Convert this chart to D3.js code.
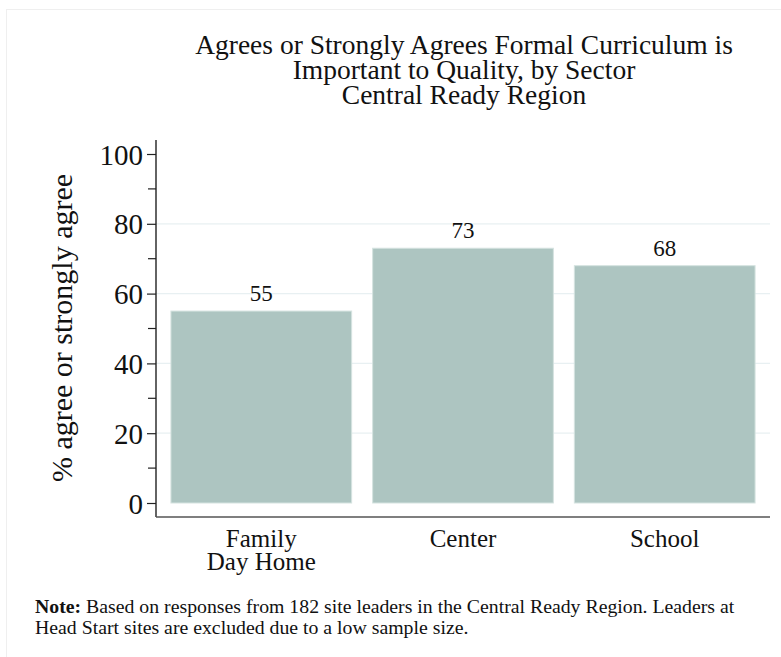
<!DOCTYPE html>
<html>
<head>
<meta charset="utf-8">
<script src="https://cdn.jsdelivr.net/npm/d3@7"></script>
<style>
  body { margin: 0; background: #fff; }
  svg text { font-family: "Liberation Serif", "Times New Roman", serif; fill: #111; }
</style>
</head>
<body>
<div id="chart"></div>
<script>
// data
var sectors = ["Family\nDay Home", "Center", "School"];
var pctAgree = [55, 73, 68];
var majorTicks = [0, 20, 40, 60, 80, 100];
var minorTicks = [10, 30, 50, 70, 90];
var titleLines = ["Agrees or Strongly Agrees Formal Curriculum is",
                  "Important to Quality, by Sector",
                  "Central Ready Region"];

var width = 781,
    height = 657;

var svg = d3.select("#chart")
  .append("svg")
    .attr("width", width)
    .attr("height", height);

// faint outer frame
svg.append("rect")
  .attr("x", 6.5).attr("y", 9.5)
  .attr("width", 800).attr("height", 700)
  .attr("fill", "none")
  .attr("stroke", "#efefef");

// plot area edges
var plotLeft = 156, plotRight = 770, plotTop = 140, plotBottom = 517;

var y = d3.scaleLinear()
  .domain([0, 100])
  .range([503, 154]);

var x = d3.scaleBand()
  .domain(sectors)
  .range([plotLeft, plotRight])
  .paddingInner(0.104)
  .paddingOuter(0.074);

// gridlines
svg.selectAll(".grid")
  .data(majorTicks.filter(function(d) { return d > 0 && d < 100; }))
  .enter()
  .append("line")
    .attr("x1", plotLeft).attr("x2", plotRight)
    .attr("y1", function(d) { return y(d); })
    .attr("y2", function(d) { return y(d); })
    .attr("stroke", "#e8f0f2")
    .attr("stroke-width", 1.3);

// bars
svg.selectAll(".bar")
  .data(pctAgree)
  .enter()
  .append("rect")
    .attr("x", function(d, i) { return x(sectors[i]); })
    .attr("y", function(d) { return y(d); })
    .attr("width", x.bandwidth())
    .attr("height", function(d) { return y(0) - y(d); })
    .attr("fill", "#adc5c1")
    .attr("stroke", "#d5e3e0")
    .attr("stroke-width", 1);

// value labels
svg.selectAll(".val")
  .data(pctAgree)
  .enter()
  .append("text")
    .attr("x", function(d, i) { return x(sectors[i]) + x.bandwidth() / 2; })
    .attr("y", function(d) { return y(d) - 10; })
    .attr("text-anchor", "middle")
    .style("font-size", "23px")
    .text(function(d) { return d; });

// y axis
var yAxis = svg.append("g")
  .attr("transform", "translate(" + plotLeft + ",0)")
  .call(d3.axisLeft(y).tickValues(majorTicks).tickSize(9).tickPadding(4));
yAxis.select(".domain").remove();
yAxis.selectAll("text").style("font-size", "29px").attr("dy", "0.35em");
yAxis.selectAll("line").attr("stroke", "#222").attr("stroke-width", 1.2);

svg.selectAll(".minor")
  .data(minorTicks)
  .enter()
  .append("line")
    .attr("x1", plotLeft - 8).attr("x2", plotLeft)
    .attr("y1", function(d) { return y(d); })
    .attr("y2", function(d) { return y(d); })
    .attr("stroke", "#222")
    .attr("stroke-width", 1.2);

svg.append("line")
  .attr("x1", plotLeft).attr("x2", plotLeft)
  .attr("y1", plotTop).attr("y2", plotBottom)
  .attr("stroke", "#222").attr("stroke-width", 1.4);

svg.append("line")
  .attr("x1", plotLeft).attr("x2", plotRight)
  .attr("y1", plotBottom).attr("y2", plotBottom)
  .attr("stroke", "#555").attr("stroke-width", 1.4);

// x labels (can be two lines)
svg.selectAll(".xlab")
  .data(sectors)
  .enter()
  .append("text")
    .attr("text-anchor", "middle")
    .style("font-size", "25px")
    .each(function(d) {
      var t = d3.select(this);
      d.split("\n").forEach(function(line, i) {
        t.append("tspan")
          .attr("x", x(d) + x.bandwidth() / 2)
          .attr("y", 547 + i * 23)
          .text(line);
      });
    });

// y axis title
svg.append("text")
  .attr("transform", "translate(72,328) rotate(-90)")
  .attr("text-anchor", "middle")
  .style("font-size", "30px")
  .text("% agree or strongly agree");

// title
svg.append("text")
  .attr("text-anchor", "middle")
  .style("font-size", "27.5px")
  .selectAll("tspan")
  .data(titleLines)
  .enter()
  .append("tspan")
    .attr("x", 464)
    .attr("y", function(d, i) { return 54 + i * 25; })
    .text(function(d) { return d; });

// note
var note = svg.append("text")
  .attr("x", 35)
  .attr("y", 613)
  .style("font-size", "19.8px");
note.append("tspan").style("font-weight", "bold").text("Note:");
note.append("tspan").text(" Based on responses from 182 site leaders in the Central Ready Region. Leaders at");
svg.append("text")
  .attr("x", 35)
  .attr("y", 634)
  .style("font-size", "19.8px")
  .text("Head Start sites are excluded due to a low sample size.");
</script>
</body>
</html>
